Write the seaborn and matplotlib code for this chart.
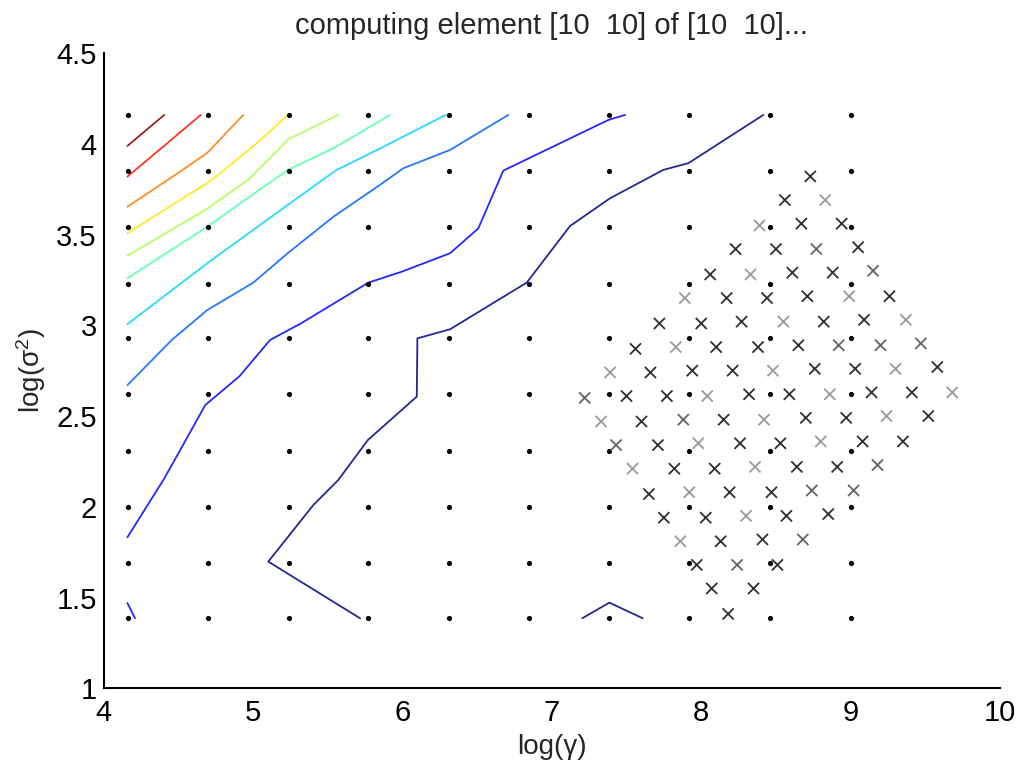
import numpy as np
import pandas as pd
import matplotlib
matplotlib.use("Agg")
import matplotlib.pyplot as plt
from matplotlib import font_manager
import seaborn as sns

# ---------------- data ----------------
title_text = "computing element [10  10] of [10  10]..."
x_label = "log(γ)"
y_label = r"log($\mathregular{\sigma^2}$)"

x_ticks = [4, 5, 6, 7, 8, 9, 10]
x_tick_labels = ["4", "5", "6", "7", "8", "9", "10"]
y_ticks = [1, 1.5, 2, 2.5, 3, 3.5, 4, 4.5]
y_tick_labels = ["1", "1.5", "2", "2.5", "3", "3.5", "4", "4.5"]

# evaluated grid (black dots)
grid_x = [4.16, 4.70, 5.24, 5.77, 6.31, 6.85, 7.38, 7.92, 8.46, 9.00]
grid_y = [1.39, 1.69, 2.00, 2.31, 2.62, 2.93, 3.23, 3.54, 3.85, 4.16]

# rotated refinement grid (crosses)
cross_x = [
    8.73, 8.83, 8.94, 9.05, 9.15, 9.26, 9.37, 9.47, 9.58, 9.68,
    8.56, 8.67, 8.77, 8.88, 8.99, 9.09, 9.20, 9.30, 9.41, 9.52,
    8.39, 8.50, 8.61, 8.71, 8.82, 8.92, 9.03, 9.14, 9.24, 9.35,
    8.23, 8.33, 8.44, 8.55, 8.65, 8.76, 8.86, 8.97, 9.08, 9.18,
    8.06, 8.17, 8.27, 8.38, 8.48, 8.59, 8.70, 8.80, 8.91, 9.02,
    7.89, 8.00, 8.10, 8.21, 8.32, 8.42, 8.53, 8.64, 8.74, 8.85,
    7.72, 7.83, 7.94, 8.04, 8.15, 8.26, 8.36, 8.47, 8.57, 8.68,
    7.56, 7.66, 7.77, 7.88, 7.98, 8.09, 8.19, 8.30, 8.41, 8.51,
    7.39, 7.50, 7.60, 7.71, 7.82, 7.92, 8.03, 8.13, 8.24, 8.35,
    7.22, 7.33, 7.43, 7.54, 7.65, 7.75, 7.86, 7.97, 8.07, 8.18,
]
cross_y = [
    3.82, 3.69, 3.56, 3.43, 3.30, 3.16, 3.03, 2.90, 2.77, 2.63,
    3.69, 3.56, 3.42, 3.29, 3.16, 3.03, 2.89, 2.76, 2.63, 2.50,
    3.55, 3.42, 3.29, 3.16, 3.02, 2.89, 2.76, 2.63, 2.50, 2.36,
    3.42, 3.28, 3.15, 3.02, 2.89, 2.76, 2.62, 2.49, 2.36, 2.23,
    3.28, 3.15, 3.02, 2.88, 2.75, 2.62, 2.49, 2.36, 2.22, 2.09,
    3.15, 3.01, 2.88, 2.75, 2.62, 2.48, 2.35, 2.22, 2.09, 1.96,
    3.01, 2.88, 2.75, 2.61, 2.48, 2.35, 2.22, 2.08, 1.95, 1.82,
    2.87, 2.74, 2.61, 2.48, 2.35, 2.21, 2.08, 1.95, 1.82, 1.68,
    2.74, 2.61, 2.47, 2.34, 2.21, 2.08, 1.94, 1.81, 1.68, 1.55,
    2.60, 2.47, 2.34, 2.21, 2.07, 1.94, 1.81, 1.68, 1.55, 1.41,
]
cross_shade = [
    "D", "L", "D", "D", "M", "D", "L", "M", "D", "L",
    "D", "D", "M", "D", "L", "D", "M", "L", "D", "D",
    "L", "D", "D", "D", "D", "M", "D", "D", "L", "D",
    "D", "L", "D", "L", "D", "D", "L", "D", "D", "M",
    "D", "D", "D", "D", "L", "D", "D", "L", "D", "M",
    "L", "D", "D", "D", "D", "L", "D", "D", "M", "D",
    "D", "L", "D", "L", "D", "D", "L", "D", "D", "M",
    "D", "D", "D", "M", "L", "D", "D", "L", "D", "D",
    "L", "D", "D", "D", "D", "L", "D", "D", "M", "D",
    "M", "L", "M", "L", "D", "D", "L", "D", "D", "D",
]

# contour lines (level index 0 = lowest, 9 = highest)
c0_x = [5.716, 5.102, 5.404, 5.571, 5.77, 6.096, 6.10, 6.319, 6.832, 7.122, 7.39, 7.746, 7.914, 8.416]
c0_y = [1.386, 1.698, 2.01, 2.148, 2.369, 2.607, 2.928, 2.978, 3.235, 3.547, 3.70, 3.856, 3.893, 4.159]
c0b_x = [7.204, 7.385, 7.608]
c0b_y = [1.386, 1.472, 1.386]
c1_x = [4.159, 4.40, 4.512, 4.68, 4.91, 5.114, 5.32, 5.772, 5.995, 6.319, 6.508, 6.675, 7.378, 7.49]
c1_y = [1.832, 2.148, 2.312, 2.56, 2.72, 2.919, 3.01, 3.235, 3.295, 3.397, 3.534, 3.852, 4.131, 4.159]
c1b_x = [4.159, 4.21]
c1b_y = [1.47, 1.386]
c2_x = [4.159, 4.456, 4.694, 5.002, 5.232, 5.538, 5.851, 6.006, 6.319, 6.709]
c2_y = [2.67, 2.919, 3.084, 3.235, 3.397, 3.598, 3.774, 3.865, 3.966, 4.159]
c3_x = [4.159, 4.694, 5.232, 5.56, 5.85, 6.29]
c3_y = [3.006, 3.342, 3.663, 3.856, 3.974, 4.159]
c4_x = [4.159, 4.694, 5.232, 5.538, 5.917]
c4_y = [3.259, 3.543, 3.856, 3.975, 4.159]
c5_x = [4.159, 4.69, 4.98, 5.236, 5.571]
c5_y = [3.383, 3.64, 3.81, 4.025, 4.159]
c6_x = [4.159, 4.69, 4.78, 5.025, 5.236]
c6_y = [3.507, 3.782, 3.837, 4.003, 4.159]
c7_x = [4.159, 4.511, 4.694, 4.935]
c7_y = [3.653, 3.846, 3.95, 4.159]
c8_x = [4.159, 4.40, 4.650]
c8_y = [3.819, 3.985, 4.159]
c9_x = [4.159, 4.406]
c9_y = [3.988, 4.159]

contours = [
    (0, c0_x, c0_y), (0, c0b_x, c0b_y),
    (1, c1_x, c1_y), (1, c1b_x, c1b_y),
    (2, c2_x, c2_y), (3, c3_x, c3_y), (4, c4_x, c4_y),
    (5, c5_x, c5_y), (6, c6_x, c6_y), (7, c7_x, c7_y),
    (8, c8_x, c8_y), (9, c9_x, c9_y),
]

# ---------------- style ----------------
sns.set_theme(style="white")
installed = {f.name for f in font_manager.fontManager.ttflist}
if "Liberation Sans Narrow" in installed:
    base_font = "Liberation Sans Narrow"
    tick_size, label_size, title_size = 24, 23, 24
else:
    base_font = "Liberation Sans"
    tick_size, label_size, title_size = 21, 20, 21
plt.rcParams["font.family"] = [base_font, "DejaVu Sans"]
plt.rcParams["mathtext.fontset"] = "custom"
plt.rcParams["mathtext.rm"] = base_font
plt.rcParams["mathtext.it"] = base_font + ":italic"

fig = plt.figure(figsize=(10.19, 7.67), dpi=100)
ax = fig.add_axes([0.1017, 0.1026, 0.8797, 0.8283])

# dots
gx, gy = np.meshgrid(grid_x, grid_y)
dots = pd.DataFrame({"x": gx.ravel(), "y": gy.ravel()})
sns.scatterplot(data=dots, x="x", y="y", color="black", s=14, marker="o",
                linewidth=0, ax=ax, zorder=3)

# crosses
crosses = pd.DataFrame({"x": cross_x, "y": cross_y, "shade": cross_shade})
sns.scatterplot(data=crosses, x="x", y="y", hue="shade",
                palette={"D": "#303030", "M": "#646464", "L": "#9a9a9a"},
                marker="x", s=64, linewidth=1.3, legend=False, ax=ax, zorder=3)

# contour lines
jet = plt.get_cmap("jet")
for lvl, xs, ys in contours:
    df = pd.DataFrame({"x": xs, "y": ys})
    sns.lineplot(data=df, x="x", y="y", sort=False, estimator=None,
                 color=jet(lvl / 9), linewidth=1.3, alpha=0.85, ax=ax, zorder=2)

ax.set_xlim(4, 10)
ax.set_ylim(1, 4.5)
ax.set_xticks(x_ticks)
ax.set_xticklabels(x_tick_labels)
ax.set_yticks(y_ticks)
ax.set_yticklabels(y_tick_labels)
ax.tick_params(direction="in", length=7, width=1.2, labelsize=tick_size,
               colors="black")
ax.tick_params(axis="x", pad=8)
ax.tick_params(axis="y", pad=5)
for side in ["top", "right"]:
    ax.spines[side].set_visible(False)
for side in ["left", "bottom"]:
    ax.spines[side].set_color("black")
    ax.spines[side].set_linewidth(1.5)

ax.set_xlabel(x_label, fontsize=label_size, labelpad=5)
ax.set_ylabel(y_label, fontsize=label_size, labelpad=6)
ax.set_title(title_text, fontsize=title_size, pad=14)

fig.savefig("out.png", dpi=100)
